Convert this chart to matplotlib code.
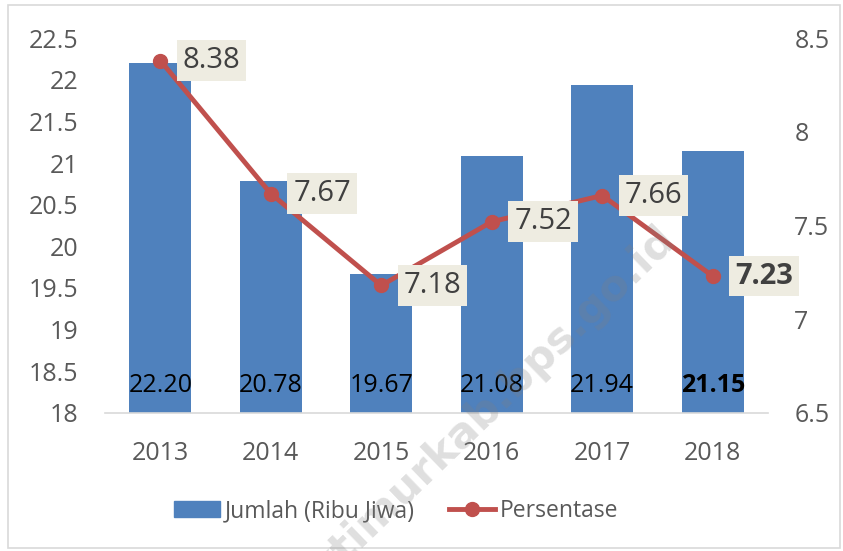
import numpy as np
import matplotlib.pyplot as plt
from matplotlib.patches import Rectangle
from matplotlib.lines import Line2D

# data
years = ['2013', '2014', '2015', '2016', '2017', '2018']
jumlah = [22.20, 20.78, 19.67, 21.08, 21.94, 21.15]
persen = [8.38, 7.67, 7.18, 7.52, 7.66, 7.23]

blue = '#4F81BD'
red = '#C0504D'
grey_txt = '#595959'

plt.rcParams['font.family'] = ['Open Sans', 'DejaVu Sans']

fig = plt.figure(figsize=(8.43, 5.51), dpi=100)
ax = fig.add_axes([0.1246, 0.2505, 0.7864, 0.6805])
ax2 = ax.twinx()

x = np.arange(len(years))
ax.bar(x, jumlah, width=0.56, color=blue, zorder=2)
ax.set_ylim(18, 22.5)
ax.set_yticks(np.arange(18, 22.51, 0.5))
ax.set_yticklabels(['18', '18.5', '19', '19.5', '20', '20.5', '21', '21.5', '22', '22.5'])
ax.set_xlim(-0.5, len(years) - 0.5)
ax.set_xticks(x)
ax.set_xticklabels(years)

# bar labels near the base
for i, v in enumerate(jumlah):
    ax.annotate('%.2f' % v, (x[i], 18), xytext=(0, 11), textcoords='offset points',
                ha='center', va='bottom', fontsize=18, color='black',
                fontweight='bold' if i == len(years) - 1 else 'normal', zorder=5)

ax2.plot(x, persen, color=red, lw=3.5, marker='o', ms=10, zorder=3)
ax2.set_ylim(6.5, 8.5)
ax2.set_yticks([6.5, 7, 7.5, 8, 8.5])
ax2.set_yticklabels(['6.5', '7', '7.5', '8', '8.5'])

for i, v in enumerate(persen):
    ax2.annotate('%.2f' % v, (x[i], v), xytext=(37, 0), textcoords='offset points',
                 ha='center', va='center', fontsize=21, color='#404040',
                 fontweight='bold' if i == len(years) - 1 else 'normal',
                 bbox=dict(boxstyle='square,pad=0.2', fc='#EEECE1', ec='none'), zorder=6)

for a in (ax, ax2):
    for s in ('top', 'left', 'right', 'bottom'):
        a.spines[s].set_visible(False)
    a.tick_params(length=0, labelsize=18, labelcolor=grey_txt)
ax.spines['bottom'].set_visible(True)
ax.spines['bottom'].set_color('#D9D9D9')
ax.spines['bottom'].set_linewidth(1.2)
ax.tick_params(axis='y', pad=19)
ax.tick_params(axis='x', pad=20)
ax2.tick_params(axis='y', pad=19)

# legend
handles = [Rectangle((0, 0), 1, 1, color=blue),
           Line2D([0], [0], color=red, lw=3.5, marker='o', ms=10)]
fig.legend(handles, ['Jumlah (Ribu Jiwa)', 'Persentase'], loc='center',
           bbox_to_anchor=(0.47, 0.072), ncol=2, frameon=False, fontsize=16.5,
           labelcolor=grey_txt, handlelength=2.0, handletextpad=0.2, columnspacing=1.5)

# watermark
fig.text(0.795, 0.572, 'jaktimurkab.bps.go.id', rotation=44, rotation_mode='anchor',
         ha='right', va='center', fontsize=31, fontweight='bold', family='DejaVu Sans',
         color='#808080', alpha=0.25, zorder=10)

# outer border
fig.patches.append(Rectangle((0.009, 0.006), 0.987, 0.985, transform=fig.transFigure,
                             fill=False, ec='#D9D9D9', lw=1.2))

fig.savefig('out.png', dpi=100)
